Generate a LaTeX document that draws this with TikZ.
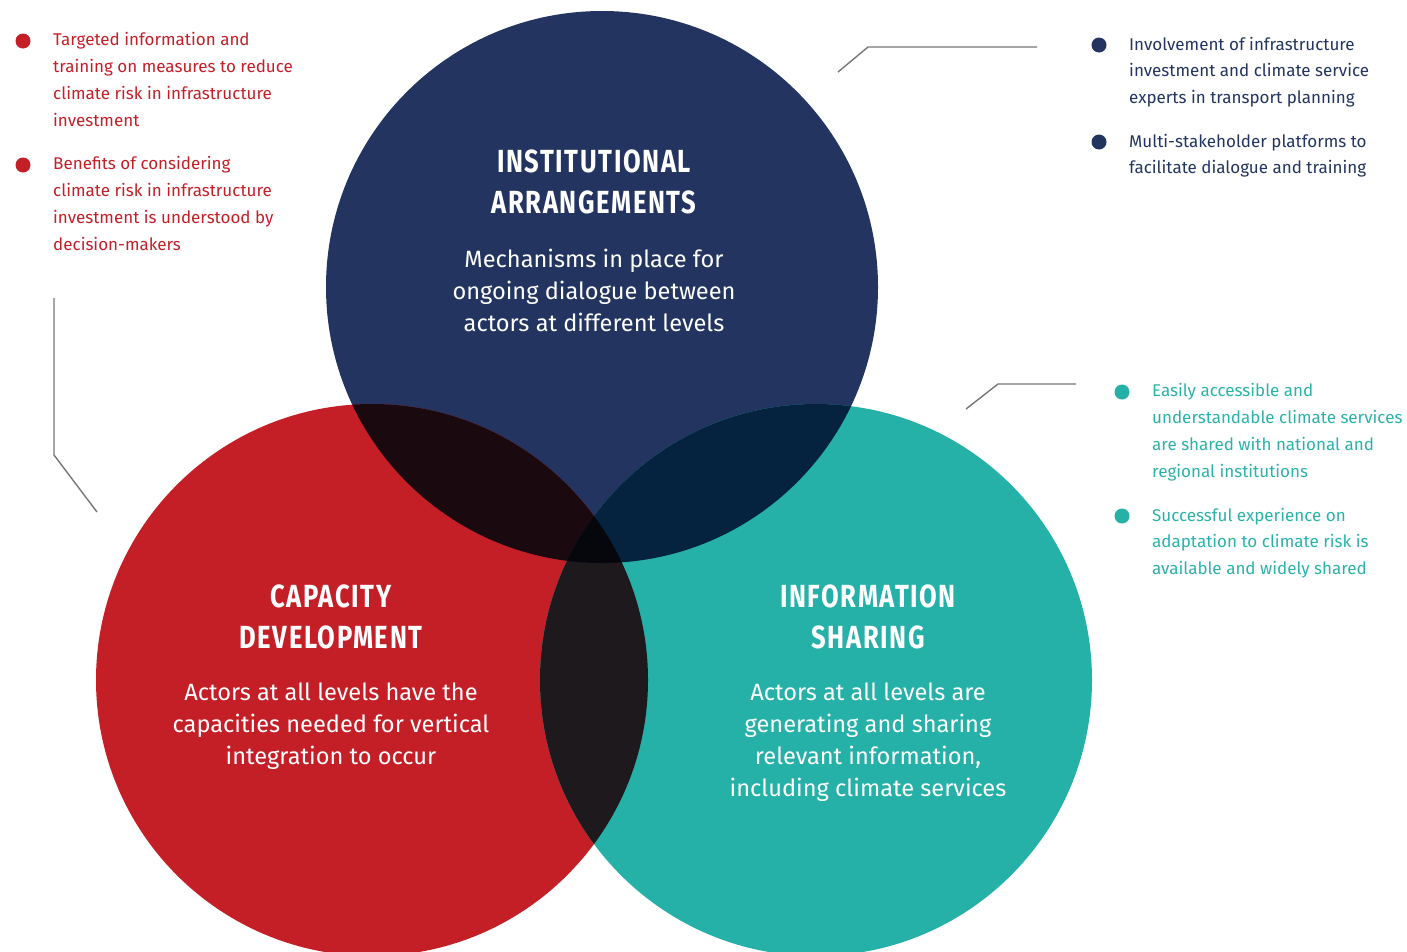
\documentclass[tikz,border=0pt]{standalone}
\usepackage{fontspec}
\setmainfont{Fira Sans}
\newfontfamily\headfont{Fira Sans}[FakeStretch=0.8,LetterSpace=5]
\definecolor{navy}{HTML}{22345F}
\definecolor{cred}{HTML}{C41F27}
\definecolor{cteal}{HTML}{25B0A8}
\definecolor{tealtxt}{HTML}{2AB2A9}
\definecolor{ovrn}{HTML}{1B0910}
\definecolor{ovnt}{HTML}{05233F}
\definecolor{ovrt}{HTML}{1D191C}
\definecolor{ovall}{HTML}{05070D}
\definecolor{conn}{HTML}{777777}
\begin{document}
\begin{tikzpicture}[x=1pt,y=-1pt,
  headtxt/.style={font=\headfont\bfseries\fontsize{32}{41}\selectfont, text=white, align=center, inner sep=0pt},
  bodytxt/.style={font=\fontsize{23.6}{32}\selectfont, text=white, align=center, inner sep=0pt},
  sidetxt/.style={font=\fontsize{17}{26.7}\selectfont, align=left, anchor=base west, inner sep=0pt},
  bulletdot/.style={circle, inner sep=0pt, minimum size=15pt},
  connline/.style={draw=conn, line width=1.4pt}]
\useasboundingbox (0,0) rectangle (1407,951);
% circle centres
\coordinate (cI) at (602,287);
\coordinate (cC) at (372,680);
\coordinate (cS) at (816,680);
% circles
\fill[navy] (cI) circle[radius=276pt];
\fill[cred] (cC) circle[radius=276pt];
\fill[cteal] (cS) circle[radius=276pt];
% overlaps
\begin{scope}
  \clip (cI) circle[radius=276pt];
  \fill[ovrn] (cC) circle[radius=276pt];
  \fill[ovnt] (cS) circle[radius=276pt];
\end{scope}
\begin{scope}
  \clip (cC) circle[radius=276pt];
  \fill[ovrt] (cS) circle[radius=276pt];
\end{scope}
\begin{scope}
  \clip (cI) circle[radius=276pt];
  \clip (cC) circle[radius=276pt];
  \fill[ovall] (cS) circle[radius=276pt];
\end{scope}
% circle texts
\node[headtxt] (instH) at (594,181.5) {INSTITUTIONAL\\ARRANGEMENTS};
\node[bodytxt] (instB) at (594,290) {Mechanisms in place for\\ongoing dialogue between\\actors at different levels};
\node[headtxt] (capH) at (331,616.5) {CAPACITY\\DEVELOPMENT};
\node[bodytxt] (capB) at (331,726) {Actors at all levels have the\\capacities needed for vertical\\integration to occur};
\node[headtxt] (infH) at (868,616.5) {INFORMATION\\SHARING};
\node[bodytxt] (infB) at (868,742) {Actors at all levels are\\generating and sharing\\relevant information,\\including climate services};
% side notes: capacity (red)  (anchor = baseline of last line)
\node[bulletdot, fill=cred] (rb1) at (23,41) {};
\node[sidetxt, text=cred] (rt1) at (53,126) {Targeted information and\\training on measures to reduce\\climate risk in infrastructure\\investment};
\node[bulletdot, fill=cred] (rb2) at (23,165) {};
\node[sidetxt, text=cred] (rt2) at (53,250) {Benefits of considering\\climate risk in infrastructure\\investment is understood by\\decision-makers};
% side notes: institutional (navy)
\node[bulletdot, fill=navy] (nb1) at (1099,45) {};
\node[sidetxt, text=navy] (nt1) at (1129,103.4) {Involvement of infrastructure\\investment and climate service\\experts in transport planning};
\node[bulletdot, fill=navy] (nb2) at (1099,142) {};
\node[sidetxt, text=navy] (nt2) at (1129,173.7) {Multi-stakeholder platforms to\\facilitate dialogue and training};
% side notes: information (teal)
\node[bulletdot, fill=cteal] (tb1) at (1122,392) {};
\node[sidetxt, text=tealtxt] (tt1) at (1152,477) {Easily accessible and\\understandable climate services\\are shared with national and\\regional institutions};
\node[bulletdot, fill=cteal] (tb2) at (1122,516) {};
\node[sidetxt, text=tealtxt] (tt2) at (1152,574.4) {Successful experience on\\adaptation to climate risk is\\available and widely shared};
% connectors
\coordinate (lA) at (54,298);
\coordinate (lB) at (54,455);
\coordinate (lC) at (97,512);
\coordinate (tA) at (838,72);
\coordinate (tB) at (868,47);
\coordinate (tC) at (1037,47);
\coordinate (sA) at (966,409);
\coordinate (sB) at (998,384);
\coordinate (sC) at (1076,384);
\draw[connline] (lA) -- (lB) -- (lC);
\draw[connline] (tA) -- (tB) -- (tC);
\draw[connline] (sA) -- (sB) -- (sC);
\end{tikzpicture}
\end{document}
